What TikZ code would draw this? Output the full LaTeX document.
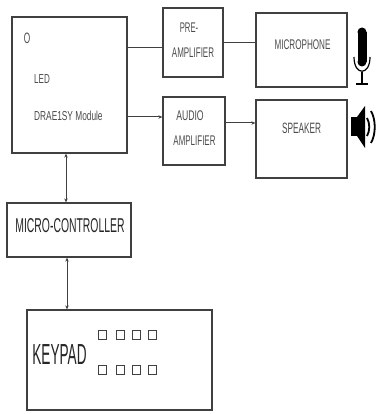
\documentclass[tikz,border=0pt]{standalone}
\usepackage{fontspec}
\setmainfont{Liberation Sans}
\usepackage{graphicx}
\usetikzlibrary{arrows.meta}
\newcommand\cnd[3]{\scalebox{#1}[1]{\fontsize{#2}{#2}\selectfont #3}}
\begin{document}
\begin{tikzpicture}[x=1pt,y=-1pt,
  blk/.style={draw=black!75,line width=1.3pt,fill=white,inner sep=0pt},
  lbl/.style={text=black!70,inner sep=0pt},
  con/.style={draw=black!75,line width=1pt},
  arr/.style={con,-{Stealth[length=4pt,width=3.5pt]}},
  darr/.style={con,{Stealth[length=4pt,width=3.5pt]}-{Stealth[length=4pt,width=3.5pt]}}]
\useasboundingbox (0,0) rectangle (375,414);
% boxes
\node[blk,minimum width=115pt,minimum height=136pt] (led) at (69.5,85) {};
\node[blk,minimum width=60pt,minimum height=69pt] (pre) at (193,42.5) {};
\node[blk,minimum width=62pt,minimum height=68pt] (aud) at (194,131) {};
\node[blk,minimum width=91pt,minimum height=74pt] (mic) at (301.5,50) {};
\node[blk,minimum width=91pt,minimum height=78pt] (spk) at (301.5,139) {};
\node[blk,minimum width=124pt,minimum height=54pt] (mcu) at (69,230) {};
\node[blk,minimum width=185pt,minimum height=100pt] (kpd) at (119.5,360) {};
% texts
\node[lbl] (o) at (27,38) {\cnd{0.55}{15}{O}};
\node[lbl,anchor=west] (ledt) at (34,79.5) {\cnd{0.62}{13}{LED}};
\node[lbl,anchor=west] (modt) at (34,116) {\cnd{0.64}{13}{DRAE1SY Module}};
\node[lbl] (pret1) at (189,28) {\cnd{0.55}{14}{PRE-}};
\node[lbl] (pret2) at (193,53) {\cnd{0.57}{14}{AMPLIFIER}};
\node[lbl] (audt1) at (190,116) {\cnd{0.62}{14}{AUDIO}};
\node[lbl] (audt2) at (194.5,141) {\cnd{0.57}{14}{AMPLIFIER}};
\node[lbl] (mict) at (302.5,45) {\cnd{0.58}{14}{MICROPHONE}};
\node[lbl] (spkt) at (301.5,128) {\cnd{0.55}{15}{SPEAKER}};
\node[lbl,text=black!85] (mcut) at (70,225.5) {\cnd{0.52}{20}{MICRO-CONTROLLER}};
\node[lbl,text=black!85] (kpdt) at (59.5,355) {\cnd{0.47}{29}{KEYPAD}};
% keypad keys
\foreach \kx [count=\i] in {102.5,120,136,152.5}{
  \node[draw=black!75,line width=0.9pt,minimum width=8pt,minimum height=9pt,inner sep=0pt] (ka\i) at (\kx,335) {};
  \node[draw=black!75,line width=0.9pt,minimum width=8pt,minimum height=9pt,inner sep=0pt] (kb\i) at (\kx,370) {};
}
% connectors
\draw[con] (led.east |- 0,48) -- (pre.west |- 0,48);
\draw[con] (pre.east |- 0,43) -- (mic.west |- 0,43);
\draw[arr] (led.east |- 0,117) -- (aud.west |- 0,117);
\draw[arr] (aud.east |- 0,123) -- (spk.west |- 0,123);
\draw[darr] (led.south -| 66,0) -- (mcu.north -| 66,0);
\draw[darr] (mcu.south -| 67,0) -- (kpd.north -| 67,0);
% microphone icon
\fill[black] (357.5,32) rectangle (366.5,62);
\fill[black] (362,32) circle (4.5);
\fill[black] (362,62) circle (4.5);
\draw[black,line width=1.2pt] (354,57) .. controls (354,76) and (370,76) .. (370,57);
\draw[black,line width=1.2pt] (362,72) -- (362,83);
\draw[black,line width=1.5pt] (356,84) -- (368,84);
% speaker icon
\fill[black] (351,117) rectangle (357,136);
\fill[black] (357,117) -- (365,106) -- (365,148) -- (357,136) -- cycle;
\draw[black,line width=1.8pt] (367,118) .. controls (370,123) and (370,131) .. (367,136);
\draw[black,line width=1.8pt] (371,111) .. controls (376,120) and (376,134) .. (371,143);
\end{tikzpicture}
\end{document}
